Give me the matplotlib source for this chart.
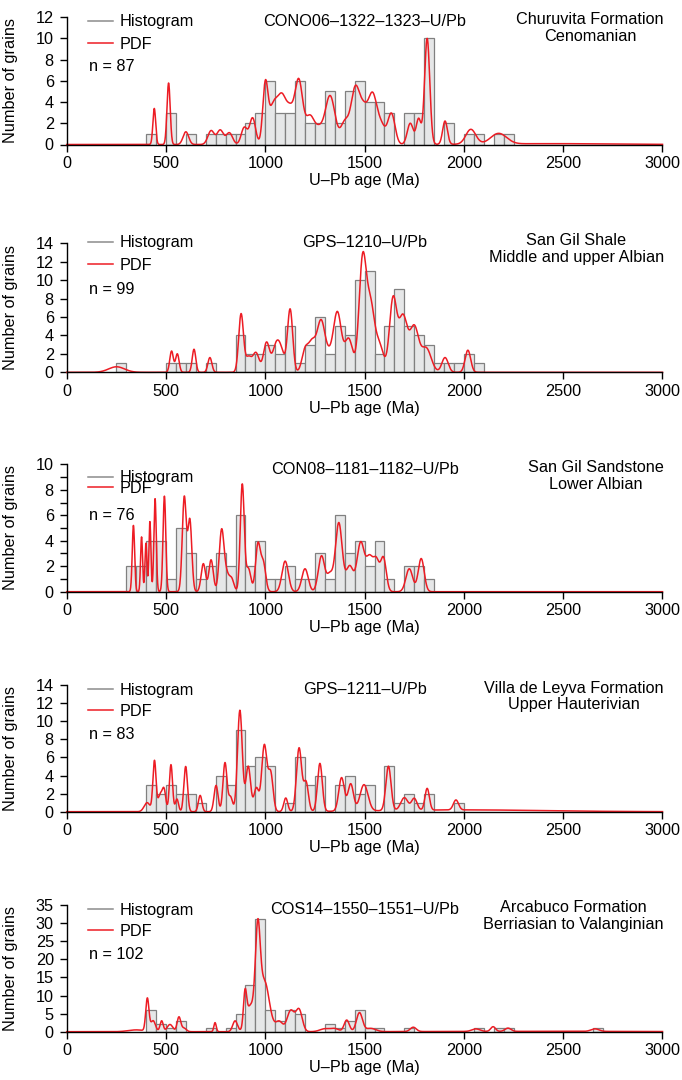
import numpy as np
import matplotlib
matplotlib.use('Agg')
import matplotlib.pyplot as plt
from matplotlib.lines import Line2D

plt.rcParams['font.family'] = ['Liberation Sans', 'DejaVu Sans']

# ---------------- data ----------------
# histogram: left edge of 50 Ma bin and number of grains
p1_bins = [400, 500, 600, 700, 750, 800, 850, 900, 950, 1000, 1050, 1100, 1150, 1200, 1250,
           1300, 1350, 1400, 1450, 1500, 1550, 1600, 1700, 1750, 1800, 1900, 2000, 2050, 2150, 2200]
p1_counts = [1, 3, 1, 1, 1, 1, 1, 2, 3, 6, 3, 3, 6, 2, 2,
             5, 2, 5, 6, 4, 4, 3, 3, 3, 10, 2, 1, 1, 1, 1]
# PDF components: centre (Ma), height (grains), width (Ma)
p1_pdf_c = [441, 513, 600, 727, 773, 819, 894, 936, 1000, 1040, 1085, 1125, 1168, 1225, 1270,
            1326, 1400, 1453, 1495, 1540, 1585, 1635, 1730, 1772, 1815, 1905, 2035, 2175, 2450]
p1_pdf_h = [3.4, 5.8, 1.2, 1.3, 1.35, 1.1, 1.6, 2.5, 5.4, 3.5, 4.2, 2.5, 6.0, 2.6, 1.2,
            4.6, 2.0, 5.2, 2.7, 4.6, 1.6, 2.9, 2.0, 2.4, 10.0, 2.2, 1.4, 1.0, 0.08]
p1_pdf_w = [7, 8, 14, 16, 16, 16, 15, 15, 13, 22, 22, 18, 20, 22, 20,
            25, 20, 22, 20, 22, 20, 18, 15, 12, 13, 12, 25, 40, 300]

p2_bins = [250, 500, 550, 600, 700, 850, 900, 950, 1000, 1050, 1100, 1150, 1200, 1250, 1300,
           1350, 1400, 1450, 1500, 1550, 1600, 1650, 1700, 1750, 1800, 1850, 1900, 1950, 2000, 2050]
p2_counts = [1, 1, 1, 1, 1, 4, 2, 2, 3, 2, 5, 1, 3, 6, 2,
             5, 4, 10, 11, 2, 5, 9, 5, 4, 3, 1, 1, 1, 2, 1]
p2_pdf_c = [251, 528, 557, 641, 721, 878, 915, 953, 1006, 1053, 1080, 1125, 1200, 1235, 1280,
            1320, 1363, 1420, 1490, 1530, 1575, 1643, 1693, 1750, 1810, 1905, 2020]
p2_pdf_h = [0.6, 2.3, 2.0, 2.5, 1.6, 6.3, 1.6, 2.1, 3.2, 2.6, 2.0, 6.8, 2.3, 3.0, 5.4,
            1.5, 6.4, 3.6, 12.0, 7.0, 2.8, 7.8, 6.0, 4.8, 2.6, 1.6, 2.4]
p2_pdf_w = [40, 9, 9, 9, 10, 12, 15, 16, 15, 18, 18, 13, 16, 18, 20,
            20, 20, 20, 18, 20, 20, 18, 22, 22, 25, 16, 14]

p3_bins = [300, 350, 400, 450, 500, 550, 600, 650, 700, 750, 800, 850, 900, 950, 1000,
           1050, 1100, 1150, 1200, 1250, 1300, 1350, 1400, 1450, 1500, 1550, 1600, 1700, 1750, 1800]
p3_counts = [2, 2, 4, 4, 1, 5, 3, 1, 2, 3, 2, 6, 2, 4, 1,
             1, 2, 1, 1, 3, 1, 6, 3, 4, 2, 4, 1, 2, 2, 1]
p3_pdf_c = [336, 377, 399, 419, 445, 492, 592, 620, 688, 727, 780, 805, 830, 884, 915,
            963, 990, 1100, 1200, 1283, 1325, 1370, 1425, 1480, 1525, 1560, 1595, 1725, 1785]
p3_pdf_h = [5.2, 4.3, 3.8, 5.5, 7.3, 7.5, 7.4, 5.6, 2.2, 2.5, 4.8, 1.2, 1.0, 8.4, 1.8,
            3.7, 2.2, 2.4, 1.8, 2.8, 1.3, 5.4, 2.0, 3.8, 2.6, 2.2, 2.6, 1.8, 2.6]
p3_pdf_w = [6, 5, 5, 5, 6, 7, 10, 10, 11, 11, 12, 12, 12, 10, 12,
            12, 12, 16, 16, 16, 15, 17, 18, 18, 18, 15, 14, 17, 15]

p4_bins = [400, 450, 500, 550, 600, 650, 750, 800, 850, 900, 950, 1000, 1100, 1150, 1200,
           1250, 1350, 1400, 1450, 1500, 1600, 1650, 1700, 1750, 1800, 1950]
p4_counts = [3, 2, 3, 2, 2, 1, 4, 3, 9, 5, 6, 5, 1, 6, 3,
             4, 3, 4, 2, 3, 5, 1, 2, 1, 2, 1]
p4_pdf_c = [405, 442, 470, 490, 525, 555, 599, 672, 752, 797, 825, 872, 914, 955, 995,
            1027, 1103, 1170, 1205, 1275, 1384, 1430, 1497, 1620, 1700, 1750, 1815, 1960, 2000]
p4_pdf_h = [1.0, 5.6, 1.8, 2.4, 5.2, 1.4, 5.0, 1.8, 2.9, 5.4, 1.6, 11.2, 5.0, 2.6, 7.3,
            4.2, 1.5, 7.0, 3.2, 5.3, 3.7, 3.0, 2.9, 4.9, 1.4, 1.3, 2.4, 1.1, 0.2]
p4_pdf_w = [15, 8, 10, 9, 8, 8, 9, 9, 10, 10, 10, 12, 12, 12, 13,
            12, 10, 13, 12, 12, 14, 14, 20, 13, 18, 14, 11, 13, 400]

p5_bins = [400, 450, 500, 550, 700, 800, 850, 900, 950, 1000, 1050, 1100, 1150, 1300, 1350,
           1400, 1450, 1500, 1550, 1700, 2050, 2150, 2200, 2650]
p5_counts = [6, 2, 1, 3, 1, 1, 5, 13, 31, 6, 3, 6, 5, 2, 1,
             3, 6, 1, 1, 1, 1, 1, 1, 1]
p5_pdf_c = [350, 406, 435, 478, 520, 565, 590, 747, 848, 898, 925, 962, 995, 1070, 1128,
            1170, 1300, 1350, 1410, 1474, 1530, 1745, 2060, 2147, 2222, 2660, 2400]
p5_pdf_h = [0.5, 9.0, 3.0, 3.0, 2.0, 4.0, 1.0, 2.5, 3.0, 9.0, 7.0, 24.0, 14.0, 2.8, 5.8,
            6.0, 0.8, 0.8, 3.2, 5.2, 0.9, 1.2, 0.7, 1.3, 0.9, 0.7, 0.1]
p5_pdf_w = [40, 8, 12, 8, 14, 9, 12, 6, 12, 8, 20, 12, 25, 18, 18,
            16, 25, 20, 13, 15, 25, 15, 20, 12, 15, 20, 500]

samples = ['CONO06\u20131322\u20131323\u2013U/Pb', 'GPS\u20131210\u2013U/Pb',
           'CON08\u20131181\u20131182\u2013U/Pb', 'GPS\u20131211\u2013U/Pb',
           'COS14\u20131550\u20131551\u2013U/Pb']
units = ['Churuvita Formation\nCenomanian', 'San Gil Shale\nMiddle and upper Albian',
         'San Gil Sandstone\nLower Albian', 'Villa de Leyva Formation\nUpper Hauterivian',
         'Arcabuco Formation\nBerriasian to Valanginian']
n_grains = [87, 99, 76, 83, 102]
y_max = [12, 14, 10, 14, 35]
y_step = [2, 2, 1, 2, 5]
y_label_step = [2, 2, 2, 2, 5]
x_ticks = [0, 500, 1000, 1500, 2000, 2500, 3000]

# ---------------- layout (pixels) ----------------
W, H = 682, 1080
left_px, right_px = 66.7, 662.5
y0_px = [144.5, 372.3, 591.7, 811.7, 1031.7]
ytop_px = [17.3, 243.3, 464.3, 685.0, 905.0]
# text offsets below axes top (px): legend hist, legend pdf, n, title, unit
offs = [(4.4, 27.0, 49.4, 4.4, 4.4),
        (-0.6, 21.7, 46.0, -0.6, -0.6),
        (13.4, 24.0, 50.7, 5.7, 5.7),
        (5.0, 26.0, 49.3, 5.0, 5.0),
        (5.0, 26.0, 49.3, 5.0, 5.0)]

FS = 11.7
RED = '#ed1c24'
GRAY_LINE = '#8c8c8c'
BAR_FACE = '#e6e7e8'
BAR_EDGE = '#808080'

fig = plt.figure(figsize=(W / 100, H / 100), dpi=100)

bins_all = [p1_bins, p2_bins, p3_bins, p4_bins, p5_bins]
counts_all = [p1_counts, p2_counts, p3_counts, p4_counts, p5_counts]
pdf_all = [(p1_pdf_c, p1_pdf_h, p1_pdf_w), (p2_pdf_c, p2_pdf_h, p2_pdf_w),
           (p3_pdf_c, p3_pdf_h, p3_pdf_w), (p4_pdf_c, p4_pdf_h, p4_pdf_w),
           (p5_pdf_c, p5_pdf_h, p5_pdf_w)]

age = np.linspace(0, 3000, 3001)

for i in range(5):
    hpx = y0_px[i] - ytop_px[i]
    ax = fig.add_axes([left_px / W, 1 - y0_px[i] / H, (right_px - left_px) / W, hpx / H])
    ax.bar(bins_all[i], counts_all[i], width=50, align='edge', color=BAR_FACE,
           edgecolor=BAR_EDGE, linewidth=0.9, zorder=2)
    c, h, w = pdf_all[i]
    pdf = np.zeros_like(age)
    for cc, hh, ww in zip(c, h, w):
        pdf += hh * np.exp(-0.5 * ((age - cc) / ww) ** 2)
    ax.plot(age, pdf, color=RED, lw=1.1, zorder=3, clip_on=False)

    ax.set_xlim(0, 3000)
    ax.set_ylim(0, y_max[i])
    ax.set_xticks(x_ticks)
    ax.set_xticklabels([str(t) for t in x_ticks], fontsize=FS)
    yt = np.arange(0, y_max[i] + 0.01, y_step[i])
    ax.set_yticks(yt)
    ax.set_yticklabels([str(int(v)) if int(v) % y_label_step[i] == 0 else '' for v in yt],
                       fontsize=FS)
    for s in ['top', 'right']:
        ax.spines[s].set_visible(False)
    for s in ['left', 'bottom']:
        ax.spines[s].set_linewidth(1.0)
        ax.spines[s].set_zorder(4)
    ax.tick_params(axis='both', direction='out', length=4.8, width=1.0, color='black')
    ax.tick_params(axis='x', pad=3.5)
    ax.tick_params(axis='y', pad=4.5)
    ax.set_xlabel('U\u2013Pb age (Ma)', fontsize=FS, labelpad=1.5)
    ax.set_ylabel('Number of grains', fontsize=FS)
    ax.yaxis.set_label_coords((18 - left_px) / (right_px - left_px), 0.5)

    o = offs[i]
    fx = lambda px: (px - left_px) / (right_px - left_px)
    fy = lambda off: 1 - off / hpx
    leg1 = ax.legend(handles=[Line2D([], [], color=GRAY_LINE, lw=1.1)], labels=['Histogram'],
                     loc='center left', bbox_to_anchor=(fx(88), fy(o[0])), frameon=False,
                     borderpad=0, borderaxespad=0, handlelength=1.55, handletextpad=0.4,
                     fontsize=FS)
    ax.add_artist(leg1)
    ax.legend(handles=[Line2D([], [], color=RED, lw=1.1)], labels=['PDF'],
              loc='center left', bbox_to_anchor=(fx(88), fy(o[1])), frameon=False,
              borderpad=0, borderaxespad=0, handlelength=1.55, handletextpad=0.4,
              fontsize=FS)
    ax.text(fx(89), fy(o[2]), 'n = %d' % n_grains[i], transform=ax.transAxes,
            ha='left', va='center', fontsize=FS)
    ax.text(0.5, fy(o[3]), samples[i], transform=ax.transAxes,
            ha='center', va='center', fontsize=FS)
    ax.text(fx(664), fy(o[4] - 9.5), units[i], transform=ax.transAxes,
            ha='right', va='top', multialignment='center', fontsize=FS, linespacing=1.15)

fig.savefig('out.png', dpi=100)
